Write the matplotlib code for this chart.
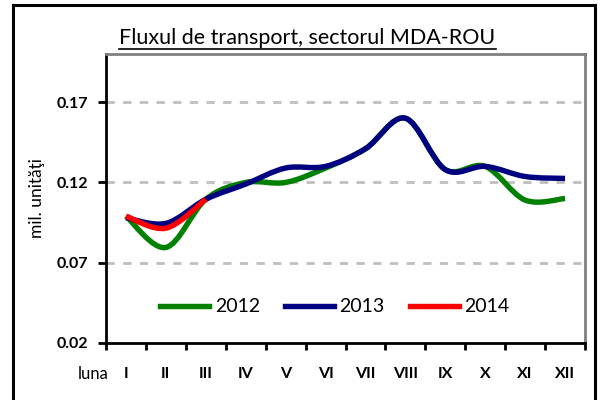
import matplotlib
matplotlib.use("Agg")
import matplotlib.pyplot as plt
from matplotlib.path import Path
from matplotlib.patches import PathPatch, Rectangle
from matplotlib.lines import Line2D

plt.rcParams["font.family"] = ["Lato", "DejaVu Sans"]

months = ["I", "II", "III", "IV", "V", "VI", "VII", "VIII", "IX", "X", "XI", "XII"]
y2012 = [0.099, 0.0795, 0.1095, 0.120, 0.120, 0.129, 0.141, 0.160, 0.128, 0.130, 0.109, 0.110]
y2013 = [0.098, 0.0945, 0.1095, 0.119, 0.129, 0.130, 0.141, 0.160, 0.128, 0.130, 0.1237, 0.1225]
y2014 = [0.099, 0.0915, 0.1095]

series = [("2012", y2012, "#008000"), ("2013", y2013, "#000080"), ("2014", y2014, "#FF0000")]
yticks = [0.02, 0.07, 0.12, 0.17]


def smooth_path(values):
    # Excel-like smoothed line: cubic bezier segments through every point
    pts = list(enumerate(values))
    n = len(pts)
    verts = [pts[0]]
    codes = [Path.MOVETO]
    for i in range(n - 1):
        p0 = pts[max(i - 1, 0)]
        p1 = pts[i]
        p2 = pts[i + 1]
        p3 = pts[min(i + 2, n - 1)]
        c1 = (p1[0] + (p2[0] - p0[0]) / 6, p1[1] + (p2[1] - p0[1]) / 6)
        c2 = (p2[0] - (p3[0] - p1[0]) / 6, p2[1] - (p3[1] - p1[1]) / 6)
        verts += [c1, c2, p2]
        codes += [Path.CURVE4] * 3
    return Path(verts, codes)


fig = plt.figure(figsize=(6.01, 4.0), dpi=100)
ax = fig.add_axes([106 / 601, 57 / 400, 479 / 601, 289 / 400])

for label, values, color in series:
    patch = PathPatch(smooth_path(values), facecolor="none", edgecolor=color,
                      lw=3.9, capstyle="butt", joinstyle="round", zorder=3)
    ax.add_patch(patch)

ax.set_xlim(-0.5, 11.5)
ax.set_ylim(0.02, 0.20)
ax.set_yticks(yticks)
ax.set_yticklabels([f"{v:.2f}" for v in yticks], fontsize=11.5, fontweight="bold")
ax.set_xticks(range(len(months)))
ax.set_xticklabels(months, fontsize=11.5, fontweight="bold")
ax.set_xticks([i - 0.5 for i in range(len(months) + 1)], minor=True)
ax.tick_params(axis="x", which="major", length=0, pad=17)
ax.tick_params(axis="x", which="minor", length=5, width=2, direction="out")
ax.tick_params(axis="y", length=6, width=2, direction="out", pad=7)

for v in yticks[1:]:
    ax.axhline(v, color="#BFBFBF", lw=2, ls=(0, (3, 3)), zorder=1)

ax.spines["left"].set_linewidth(2)
ax.spines["bottom"].set_linewidth(2)
ax.spines["top"].set_color("#808080")
ax.spines["right"].set_color("#808080")
ax.spines["top"].set_linewidth(2)
ax.spines["right"].set_linewidth(2)

ax.set_ylabel("mil. unităţi", fontsize=12.5)
ax.yaxis.set_label_coords(-0.128, 0.5)
fig.text(93 / 601, 1 - 374 / 400, "luna", fontsize=12, ha="center", va="center")

handles = [Line2D([], [], color=c, lw=3.9) for _, _, c in series]
ax.legend(handles, [s[0] for s in series], loc="center", bbox_to_anchor=(0.478, 0.125),
          ncol=3, frameon=False, fontsize=14, handlelength=2.5, handletextpad=0.3,
          columnspacing=1.3)

title = fig.text(307.5 / 601, 1 - 38 / 400, "Fluxul de transport, sectorul MDA-ROU",
                 fontsize=15.5, ha="center", va="center")
fig.canvas.draw()
bb = title.get_window_extent(fig.canvas.get_renderer()).transformed(fig.transFigure.inverted())
fig.add_artist(Line2D([bb.x0, bb.x1], [1 - 49 / 400] * 2, color="black", lw=1.2,
                      transform=fig.transFigure))

fig.add_artist(Rectangle((12.5 / 601, -0.05), 582 / 601, 1.05 - 4.5 / 400, fill=False,
                         edgecolor="black", lw=2.2, transform=fig.transFigure))

fig.savefig("out.png", dpi=100)
